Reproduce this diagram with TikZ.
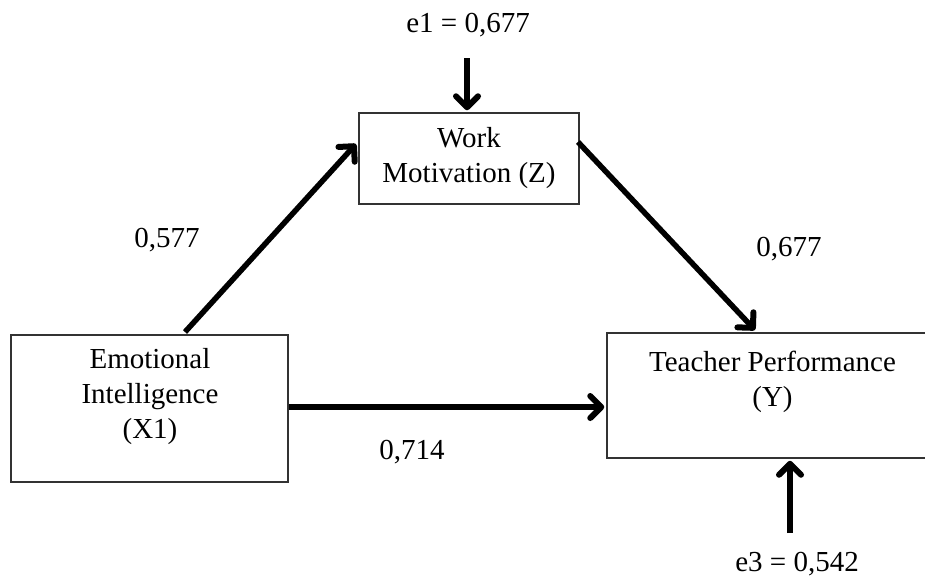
\documentclass[tikz,border=0pt]{standalone}
\usepackage{fontspec}
\setmainfont{Liberation Serif}
\usetikzlibrary{arrows.meta}
\begin{document}
\begin{tikzpicture}[x=1pt,y=-1pt,
  box/.style={draw=black!80, line width=1.5pt, inner sep=0pt},
  txt/.style={align=center, inner sep=0pt, font=\fontsize{29}{35}\selectfont},
  lbl/.style={inner sep=0pt, font=\fontsize{29}{35}\selectfont},
  arr/.style={line width=5.5pt, -{Straight Barb[length=11pt,width=22pt,round,line width=6pt]}}]
\clip (0,0) rectangle (925,576);
\fill[white] (0,0) rectangle (925,576);
% boxes
\node[box, minimum width=220pt, minimum height=91pt] (z) at (469,158.5) {};
\node[box, minimum width=277pt, minimum height=147pt] (x1) at (149.5,408.5) {};
\node[box, minimum width=331pt, minimum height=125pt] (y) at (772.5,395.5) {};
% box texts
\node[txt] (zt) at (469,158) {Work\\Motivation (Z)};
\node[txt] (x1t) at (150,397) {Emotional\\Intelligence\\(X1)};
\node[txt] (yt) at (772.5,382) {Teacher Performance\\(Y)};
% labels
\node[lbl] (e1) at (468,25) {e1 = 0,677};
\node[lbl] (e3) at (797,564) {e3 = 0,542};
\node[lbl] (l1) at (167,240) {0,577};
\node[lbl] (l2) at (789,249) {0,677};
\node[lbl] (l3) at (412,452) {0,714};
% connector anchor points
\coordinate (e1s) at (467,58);
\coordinate (e3s) at (790,533);
\coordinate (x1top) at (185,332);
\coordinate (zleft) at (356,144);
\coordinate (zright) at (578,142);
\coordinate (ytop) at (755,330);
% arrows
\draw[arr] (e1s) -- ([yshift=2pt]z.north -| e1s);
\draw[arr] (e3s) -- ([yshift=-2pt]y.south -| e3s);
\draw[arr] (x1top) -- (zleft);
\draw[arr] (zright) -- (ytop);
\draw[arr] (x1.east |- 0,407) -- ([xshift=-2pt]y.west |- 0,407);
\end{tikzpicture}
\end{document}
